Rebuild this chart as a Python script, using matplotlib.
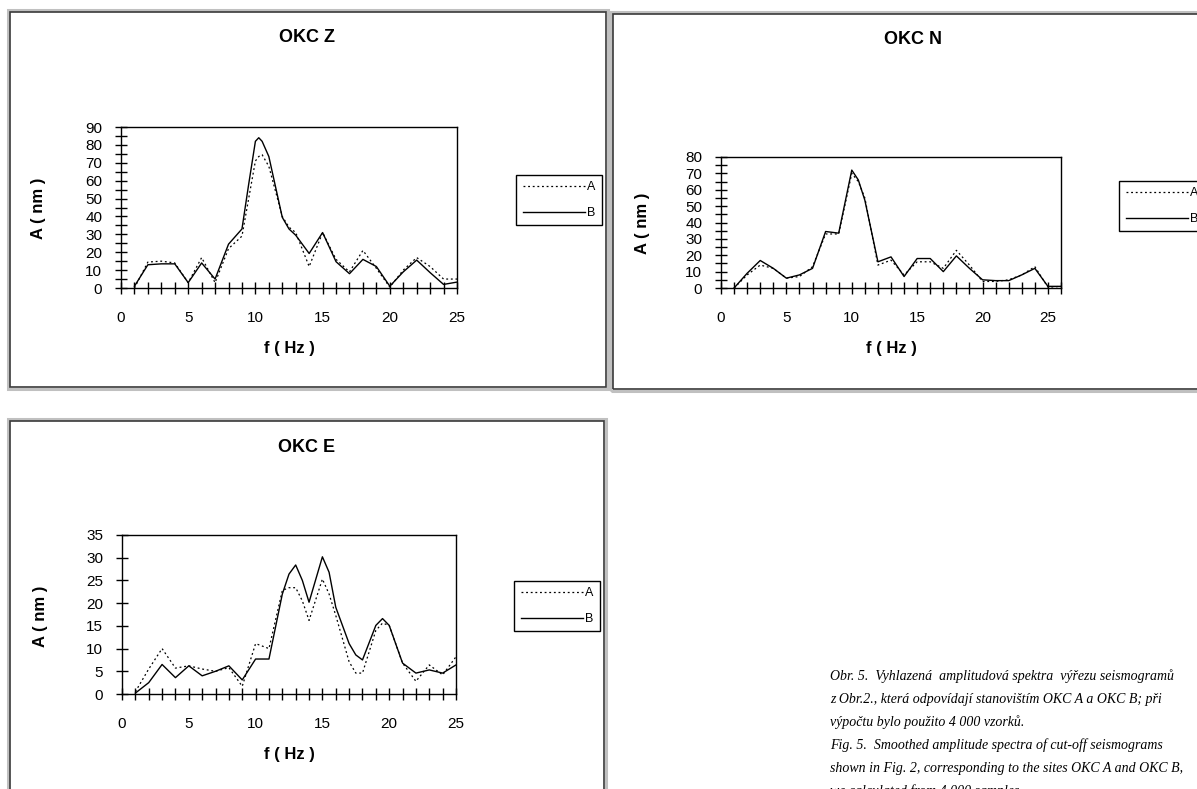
import matplotlib
matplotlib.use("Agg")
import matplotlib.pyplot as plt
from matplotlib.patches import Rectangle
from matplotlib.lines import Line2D

plt.rcParams["font.family"] = ["Liberation Sans", "DejaVu Sans"]

# --- data (f in Hz, amplitude in nm) ---
f_z = [1, 2, 3, 4, 5, 6, 7, 8, 9, 9.5, 10, 10.25, 10.5, 11, 12, 12.5, 13, 14, 15, 16, 17, 18, 19, 20, 21, 22, 23, 24, 25]
z_a = [0, 14.5, 15, 14, 3, 17, 3, 22, 29, 50, 71, 73.5, 74.5, 68, 40, 34, 31, 12, 31, 16, 9, 21, 11, 0.5, 10, 17, 12, 5, 5]
z_b = [1, 13, 13.5, 13.5, 3, 14, 5, 24.5, 33, 58, 82, 84, 82, 73.5, 39.5, 33, 29.5, 19.3, 31, 14.7, 8, 16, 12, 1, 9, 15.6, 8.6, 2, 3.3]

f_n = [1, 2, 3, 4, 5, 6, 7, 8, 9, 10, 10.5, 11, 12, 13, 14, 15, 16, 17, 18, 19, 20, 21, 22, 23, 24, 25, 26]
n_a = [0, 8, 14, 12, 6, 7, 13, 33, 33, 70, 65, 55, 14, 17, 8, 16, 16, 12, 23, 14, 4, 4, 5, 8, 13, 0.5, 1]
n_b = [0, 9, 16.8, 12, 6, 8, 12, 34.5, 33.5, 72, 66, 53.6, 16, 19, 7, 18, 18, 10, 19.6, 12, 5, 4.5, 4.5, 8, 12, 1, 1]

f_e = [1, 2, 3, 4, 5, 6, 7, 8, 9, 10, 11, 12, 12.5, 13, 13.5, 14, 15, 15.5, 16, 17, 17.5, 18, 19, 19.5, 20, 21, 22, 23, 24, 25]
e_a = [0.5, 5.5, 10, 5.7, 6.2, 5.5, 5, 5.8, 1.7, 11.1, 10, 22.8, 23.4, 23.4, 20.5, 16.2, 25.3, 22, 17.3, 7.1, 4.6, 4.6, 14, 15.6, 15.1, 6.8, 2.8, 6.4, 4.2, 8.2]
e_b = [0.2, 2.5, 6.5, 3.6, 6.2, 4, 5, 6.2, 3.1, 7.7, 7.7, 22, 26.4, 28.4, 25, 20.2, 30.2, 26.8, 19.1, 11.1, 8.6, 7.5, 15.1, 16.6, 15.1, 6.8, 4.6, 5.3, 4.6, 6.4]

caption = [
    "Obr. 5.  Vyhlazená  amplitudová spektra  výřezu seismogramů",
    "z Obr.2., která odpovídají stanovištím OKC A a OKC B; při",
    "výpočtu bylo použito 4 000 vzorků.",
    "Fig. 5.  Smoothed amplitude spectra of cut-off seismograms",
    "shown in Fig. 2, corresponding to the sites OKC A and OKC B,",
    "we calculated from 4 000 samples.",
]

W, H = 1197, 789
fig = plt.figure(figsize=(W / 100, H / 100), dpi=100)


def fx(x):
    return x / W


def fy(y):
    return 1 - y / H


def frame(l, t, r, b):
    # light grey outer band + dark inner line, like the old window borders
    fig.add_artist(Rectangle((fx(l - 2), fy(b + 2)), (r - l + 4) / W, (b - t + 4) / H,
                             transform=fig.transFigure, fill=False, ec="#c0c0c0", lw=2.2))
    fig.add_artist(Rectangle((fx(l), fy(b)), (r - l) / W, (b - t) / H,
                             transform=fig.transFigure, fill=False, ec="#3a3a3a", lw=1.2))


def panel(box, title, title_xy, xlab_y, ylab_xy, legend_xy, f, a, b, xmax, ymax, ystep, yminor):
    l, t, r, bt = box
    ax = fig.add_axes([fx(l), fy(bt), (r - l) / W, (bt - t) / H])
    ax.plot(f, a, color="black", lw=0.9, linestyle=(0, (1.5, 2.2)), label="A")
    ax.plot(f, b, color="black", lw=1.0, label="B")
    ax.set_xlim(0, xmax)
    ax.set_ylim(0, ymax)
    ax.set_xticks(range(0, 26, 5))
    ax.set_xticks(range(0, xmax + 1), minor=True)
    ax.set_yticks(range(0, ymax + 1, ystep))
    if yminor:
        ax.set_yticks(range(0, ymax + 1, yminor), minor=True)
    ax.tick_params(which="both", direction="inout", length=9, width=1, color="black")
    ax.tick_params(axis="x", which="major", pad=12, labelsize=11)
    ax.tick_params(axis="y", which="major", pad=9, labelsize=11)
    for s in ax.spines.values():
        s.set_linewidth(1)
    ax.set_facecolor("none")

    fig.text(fx(title_xy[0]), fy(title_xy[1]), title, ha="center", va="center",
             fontsize=13, fontweight="bold")
    fig.text(fx((l + r) / 2), fy(xlab_y), "f ( Hz )", ha="center", va="center",
             fontsize=12, fontweight="bold")
    fig.text(fx(ylab_xy[0]), fy(ylab_xy[1]), "A ( nm )", ha="center", va="center",
             rotation=90, fontsize=12, fontweight="bold")

    handles = [Line2D([], [], color="black", lw=0.9, linestyle=(0, (1.5, 2.2))),
               Line2D([], [], color="black", lw=1.0)]
    leg = ax.legend(handles, ["A", "B"], loc="center",
                    bbox_to_anchor=(fx(legend_xy[0]), fy(legend_xy[1])),
                    bbox_transform=fig.transFigure, fontsize=9, handlelength=5.0,
                    handletextpad=0.15, labelspacing=1.1, borderpad=0.5,
                    fancybox=False, framealpha=1, edgecolor="black")
    leg.get_frame().set_linewidth(1)
    return ax


frame(10, 12, 606, 387)
frame(613, 14, 1215, 389)
frame(10, 421, 604, 805)

panel((121, 127, 457, 288), "OKC Z", (307, 38), 348, (39, 208), (559, 200),
      f_z, z_a, z_b, 25, 90, 10, 5)
panel((721, 157, 1061, 288), "OKC N", (913, 40), 348, (642, 223), (1162, 206),
      f_n, n_a, n_b, 26, 80, 10, 5)
panel((122, 535, 456, 694), "OKC E", (307, 448), 755, (41, 616), (557, 606),
      f_e, e_a, e_b, 25, 35, 5, 0)

# caption, the last line runs off the bottom edge as in the scan
for i, line in enumerate(caption):
    fig.text(fx(830), fy(680 + 23 * i), line, ha="left", va="baseline",
             fontsize=10, style="italic", family=["Liberation Serif", "DejaVu Serif"])

fig.savefig("out.png", dpi=100)
